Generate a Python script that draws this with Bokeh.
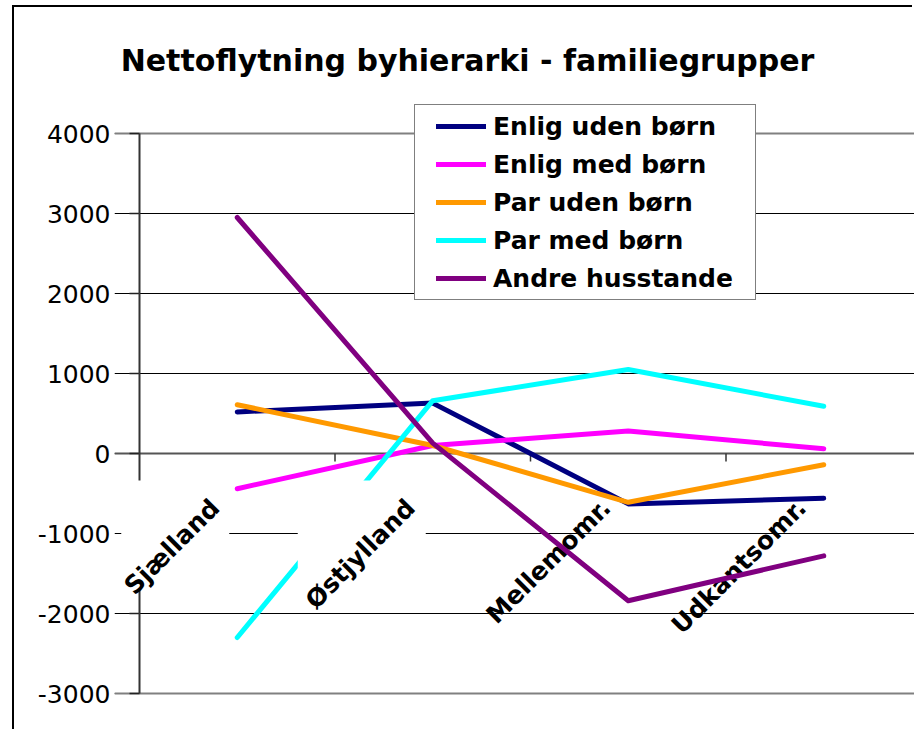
from bokeh.plotting import figure
from bokeh.models import Range1d, FixedTicker, Grid, Label, Legend, LegendItem
from bokeh.embed import file_html
from bokeh.resources import INLINE
from bokeh.core.properties import value

# ---------------- data ----------------
categories = ["Sjælland", "Østjylland", "Mellemomr.", "Udkantsomr."]
enlig_uden_born = [520, 630, -630, -560]
enlig_med_born = [-440, 100, 280, 60]
par_uden_born = [610, 100, -610, -140]
par_med_born = [-2300, 660, 1050, 590]
andre_husstande = [2950, 130, -1840, -1280]
series_names = ["Enlig uden børn", "Enlig med børn", "Par uden børn",
                "Par med børn", "Andre husstande"]
y_ticks = [-3000, -2000, -1000, 0, 1000, 2000, 3000, 4000]
title_text = "Nettoflytning byhierarki - familiegrupper"

# ---------------- style / geometry ----------------
series_values = [enlig_uden_born, enlig_med_born, par_uden_born, par_med_born, andre_husstande]
colors = ["#000080", "#FF00FF", "#FF9900", "#00FFFF", "#800080"]
FONT = "DejaVu Sans"

W, H = 900, 724                 # canvas size
ML, MB = 100, 20                # frame left / bottom border (canvas px)
PLOT_LEFT = 125                 # canvas x of the value axis
PLOT_TOP = 126                  # canvas y of the top tick
CAT_PX = 195.5                  # pixels per category
TICK_PX = 80                    # pixels per tick step
step = y_ticks[1] - y_ticks[0]
px_x = 1.0 / CAT_PX             # data units per pixel
px_y = step / TICK_PX
FB = H - MB                     # canvas y of frame bottom
y_min, y_max = y_ticks[0], y_ticks[-1]
plot_bottom = PLOT_TOP + (y_max - y_min) / px_y

x_start = (ML - PLOT_LEFT) * px_x
x_end = (W - PLOT_LEFT) * px_x
y_hi = y_max + PLOT_TOP * px_y
y_lo = y_min - (FB - plot_bottom) * px_y

# label boxes (pixels relative to category centre / zero axis): left, right, top, bottom
box_px = {"Sjælland": (116, 8, 27, 135), "Østjylland": (135, 7, 27, 147)}

p = figure(width=W, height=H, output_backend="svg", toolbar_location=None,
           x_range=Range1d(x_start, x_end), y_range=Range1d(y_lo, y_hi),
           x_axis_location=None, min_border_left=ML, min_border_right=0,
           min_border_top=0, min_border_bottom=MB)
p.outline_line_color = None
p.background_fill_color = "white"
p.border_fill_color = "white"
# chart-area frame (left and top edges; the rest lies outside the window)
p.styles = {"box-shadow": "-2px -2px 0 0 black",
            "margin-left": "14px", "margin-top": "7px"}

# grid lines
p.xgrid.visible = False
p.ygrid.ticker = FixedTicker(ticks=y_ticks)
p.ygrid.grid_line_color = "black"
p.ygrid.grid_line_width = 1
p.ygrid.bounds = (0, x_end)
p.add_layout(Grid(dimension=1, ticker=FixedTicker(ticks=[y_min, y_max]),
                  bounds=(0, x_end), grid_line_color="#808080", grid_line_width=2))
p.add_layout(Grid(dimension=1, ticker=FixedTicker(ticks=[0]),
                  bounds=(0, x_end), grid_line_color="#555555", grid_line_width=2))

# value axis: labels from the axis, line and ticks drawn at the plot-area edge
ax = p.yaxis[0]
ax.ticker = FixedTicker(ticks=y_ticks)
ax.major_label_overrides = {t: str(t) for t in y_ticks}
ax.major_label_text_font = FONT
ax.major_label_text_font_size = "25px"
ax.major_label_text_color = "black"
ax.major_label_standoff = 4
ax.major_tick_out = 0
ax.major_tick_in = 0
ax.minor_tick_out = 0
ax.minor_tick_in = 0
ax.axis_line_color = None
ax.major_tick_line_color = None

p.segment(x0=[-10 * px_x] * len(y_ticks), y0=y_ticks, x1=[0] * len(y_ticks), y1=y_ticks,
          line_color="#222222", line_width=1.5)

cx = [i + 0.5 for i in range(len(categories))]

# category tick marks on the zero axis
bx = list(range(1, len(categories)))
p.segment(x0=bx, y0=[0] * len(bx), x1=bx, y1=[-8 * px_y] * len(bx),
          line_color="#333333", line_width=1.5)

txt_kw = dict(angle=45, angle_units="deg", text_align="right",
              text_baseline="alphabetic", x_offset=-22, y_offset=50,
              text_font=value(FONT), text_font_style="bold",
              text_font_size="25px", text_color="black")

# labels without box (beneath the lines)
lo_idx = [i for i, c in enumerate(categories) if c not in box_px]
p.text(x=[cx[i] for i in lo_idx], y=[0] * len(lo_idx),
       text=[categories[i] for i in lo_idx], **txt_kw)

renderers = []
for name, vals, col in zip(series_names, series_values, colors):
    r = p.line(x=cx, y=vals, line_color=col, line_width=5,
               line_cap="round", line_join="round")
    renderers.append(r)

# value axis line
p.segment(x0=[0], y0=[y_min], x1=[0], y1=[y_max], line_color="#333333", line_width=2)

# labels with white boxes (above the lines)
hi_idx = [i for i, c in enumerate(categories) if c in box_px]
p.quad(left=[cx[i] - box_px[categories[i]][0] * px_x for i in hi_idx],
       right=[cx[i] - box_px[categories[i]][1] * px_x for i in hi_idx],
       top=[-box_px[categories[i]][2] * px_y for i in hi_idx],
       bottom=[-box_px[categories[i]][3] * px_y for i in hi_idx],
       fill_color="white", line_color=None)
p.text(x=[cx[i] for i in hi_idx], y=[0] * len(hi_idx),
       text=[categories[i] for i in hi_idx], **txt_kw)

# legend (location: frame-relative px, bottom-left)
LEG_LEFT, LEG_BOTTOM = 400, 293     # canvas px
legend = Legend(items=[LegendItem(label=n, renderers=[r]) for n, r in zip(series_names, renderers)],
                location=(LEG_LEFT - ML, FB - LEG_BOTTOM))
legend.margin = 0
try:
    legend.padding = dict(top=2, right=22, bottom=2, left=21)
except Exception:
    legend.padding = 8
legend.spacing = 0
legend.label_height = 38
legend.glyph_height = 38
legend.glyph_width = 50
legend.label_standoff = 7
legend.label_text_font = FONT
legend.label_text_font_style = "bold"
legend.label_text_font_size = "25px"
legend.label_text_color = "black"
legend.border_line_color = "black"
legend.border_line_width = 1
legend.background_fill_color = "white"
legend.background_fill_alpha = 1
p.add_layout(legend)

# title
TITLE_CX, TITLE_BASE = 453, 53      # canvas px
p.add_layout(Label(x=(TITLE_CX - PLOT_LEFT) * px_x, y=y_max + (PLOT_TOP - TITLE_BASE) * px_y,
                   text=title_text, text_align="center", text_baseline="alphabetic",
                   text_font=FONT, text_font_style="bold", text_font_size="30px",
                   text_color="black"))

open("out.html", "w").write(file_html(p, INLINE))
